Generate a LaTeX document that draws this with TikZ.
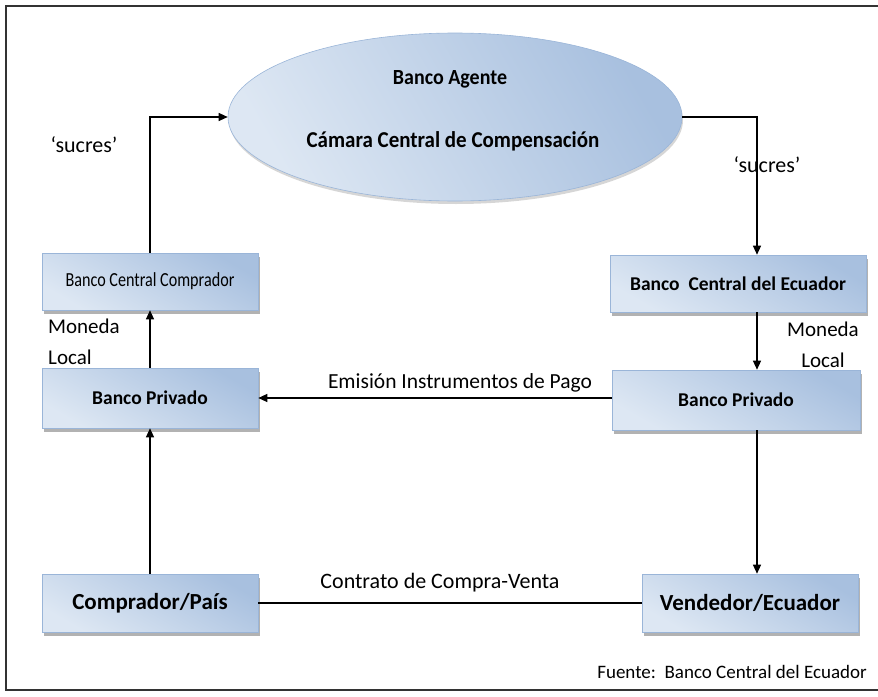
\documentclass[tikz,border=0pt]{standalone}
\usepackage{fontspec}
\setmainfont{Carlito}
\usetikzlibrary{arrows.meta,shadows,shapes.geometric}
\definecolor{bxtop}{HTML}{DDE7F3}
\definecolor{bxbot}{HTML}{A8C0DF}
\definecolor{bxline}{HTML}{9AB5D8}
\begin{document}
\begin{tikzpicture}[x=1pt,y=-1pt,
  box/.style={rectangle, draw=bxline, line width=0.6pt,
    top color=bxtop, bottom color=bxbot, shading angle=150,
    drop shadow={shadow xshift=2pt, shadow yshift=-4pt, fill=black!55, opacity=0.55},
    inner sep=0pt, font=\fontsize{19.5}{22}\selectfont\bfseries},
  lbl/.style={font=\fontsize{21}{24}\selectfont, inner sep=0pt},
  arr/.style={-{Triangle[length=9pt,width=8pt]}, line width=1.2pt, black},
  con/.style={line width=1.2pt, black}]
\useasboundingbox (0,0) rectangle (878,696);
\draw[line width=1.6pt, black!80] (6,6) rectangle (890,690);

\node[ellipse, draw=bxline, line width=0.6pt, minimum width=454pt, minimum height=168pt,
  left color=bxtop, right color=bxbot, shading angle=120,
  drop shadow={shadow xshift=1pt, shadow yshift=-3pt, fill=black!40, opacity=0.4}] (ell) at (455,117) {};
\node[font=\fontsize{20}{22}\selectfont\bfseries, inner sep=0pt] (t1) at (450,79) {\scalebox{1}[1.08]{Banco Agente}};
\node[font=\fontsize{21}{24}\selectfont\bfseries, inner sep=0pt] (t2) at (453,141) {\scalebox{1}[1.08]{Cámara Central de Compensación}};

\coordinate (rx) at (757,0);

\node[box, minimum width=216pt, minimum height=57pt] (bcc) at (150,281.5)
  {\scalebox{0.85}[1.05]{\fontsize{19}{22}\selectfont\mdseries Banco Central Comprador}};
\node[box, minimum width=256pt, minimum height=57pt] (bce) at (738,283.5) {Banco\ \ Central del Ecuador};
\node[box, minimum width=216pt, minimum height=60pt] (bpl) at (150,398) {Banco Privado};
\node[box, minimum width=248pt, minimum height=60pt] (bpr) at (736,400) {Banco Privado};
\node[box, minimum width=216pt, minimum height=58pt, font=\fontsize{23}{26}\selectfont\bfseries] (comp) at (150,603) {Comprador/País};
\node[box, minimum width=216pt, minimum height=58pt, font=\fontsize{23}{26}\selectfont\bfseries] (vend) at (750,603) {Vendedor/Ecuador};

\draw[arr] (bcc.north) |- (ell.west);
\draw[arr] (ell.east) -| (bce.north -| rx);
\draw[arr] (bce.south -| rx) -- (bpr.north -| rx);
\draw[arr] (bpr.south -| rx) -- (vend.north -| rx);
\draw[arr] (bpl.north) -- (bcc.south);
\draw[arr] (comp.north) -- (bpl.south);
\draw[arr] (bpr.west |- bpl.east) -- (bpl.east);
\draw[con] (comp.east) -- (vend.west);

\node[lbl, font=\fontsize{22}{24}\selectfont] (s1) at (84,145) {‘sucres’};
\node[lbl, font=\fontsize{22}{24}\selectfont] (s2) at (767,165) {‘sucres’};
\node[lbl, anchor=west] (m1) at (48,326) {Moneda};
\node[lbl, anchor=west] (l1) at (48,357) {Local};
\node[lbl] (m2) at (823,329) {Moneda};
\node[lbl] (l2) at (823,360) {Local};
\node[lbl, font=\fontsize{21.5}{24}\selectfont] (em) at (460,383) {Emisión Instrumentos de Pago};
\node[lbl, font=\fontsize{22}{24}\selectfont] (co) at (440,583) {Contrato de Compra-Venta};
\node[lbl, anchor=east, font=\fontsize{19}{21}\selectfont] (fu) at (867,672) {Fuente:\ \ Banco Central del Ecuador};
\end{tikzpicture}
\end{document}
